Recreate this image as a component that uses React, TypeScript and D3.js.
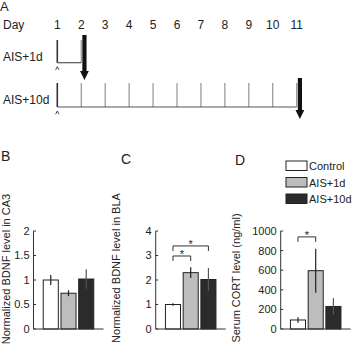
import React from "react";
import * as d3 from "d3";

// Timeline (panel A)
const dayTicks = [1, 2, 3, 4, 5, 6, 7, 8, 9, 10, 11];
const protocolLabels = ["AIS+1d", "AIS+10d"];
const protocolEndDays = [2, 11];

// Bar panels (B, C, D)
const groups = ["Control", "AIS+1d", "AIS+10d"];
const groupFills = ["#ffffff", "#bdbdbd", "#2b2b2b"];

const ca3Mean = [1.0, 0.73, 1.02];
const ca3Sem = [0.1, 0.06, 0.2];
const ca3Ticks = [0, 0.5, 1, 1.5, 2];

const blaMean = [1.0, 2.3, 2.02];
const blaSem = [0.05, 0.22, 0.47];
const blaTicks = [0, 1, 2, 3, 4];

const cortMean = [92, 595, 230];
const cortSem = [28, 225, 85];
const cortTicks = [0, 200, 400, 600, 800, 1000];

const FONT = "'Liberation Sans', Arial, Helvetica, sans-serif";
const INK = "#222";

type Sig = { a: number; b: number; level: number };

type PanelProps = {
  letter: string;
  letterX: number;
  letterY: number;
  axisX: number;
  yLabel: string;
  yLabelX: number;
  yLabelY: number;
  max: number;
  ticks: number[];
  means: number[];
  sems: number[];
  sigs: Sig[];
};

function BarPanel(p: PanelProps) {
  const y = d3.scaleLinear().domain([0, p.max]).range([329, 231]);
  const x = d3
    .scaleBand<string>()
    .domain(groups)
    .range([p.axisX, p.axisX + 70])
    .paddingInner(0.15)
    .paddingOuter(0.55);
  const bw = x.bandwidth();
  const cx = (i: number) => (x(groups[i]) as number) + bw / 2;
  return (
    <g>
      <text x={p.letterX} y={p.letterY} fontSize={14} fill={INK} fontFamily={FONT}>
        {p.letter}
      </text>
      <text
        transform={`translate(${p.yLabelX},${p.yLabelY}) rotate(-90)`}
        textAnchor="middle"
        fontSize={11}
        fill={INK}
        fontFamily={FONT}
      >
        {p.yLabel}
      </text>
      {p.ticks.map((t) => (
        <g key={t}>
          <text
            x={p.axisX - 4}
            y={y(t)}
            dy="0.36em"
            textAnchor="end"
            fontSize={11}
            fill={INK}
            fontFamily={FONT}
          >
            {t}
          </text>
          <line x1={p.axisX} x2={p.axisX + 2.5} y1={y(t)} y2={y(t)} stroke="#333" strokeWidth={1} />
        </g>
      ))}
      {p.means.map((m, i) => (
        <g key={i}>
          <rect
            x={x(groups[i])}
            y={y(m)}
            width={bw}
            height={y(0) - y(m)}
            fill={groupFills[i]}
            stroke="#222"
            strokeWidth={1}
          />
          <line
            x1={cx(i)}
            x2={cx(i)}
            y1={y(m - p.sems[i])}
            y2={y(m + p.sems[i])}
            stroke={i === 2 ? "#555" : "#222"}
            strokeWidth={1.2}
          />
        </g>
      ))}
      <line x1={p.axisX} x2={p.axisX} y1={y(p.max)} y2={y(0)} stroke="#333" strokeWidth={1} />
      <line x1={p.axisX} x2={p.axisX + 70} y1={y(0)} y2={y(0)} stroke="#333" strokeWidth={1} />
      {p.sigs.map((s, k) => {
        const yy = y(s.level);
        return (
          <g key={k}>
            <path
              d={`M${cx(s.a)},${yy + 5}V${yy}H${cx(s.b)}V${yy + 5}`}
              fill="none"
              stroke="#333"
              strokeWidth={1}
            />
            <text
              x={(cx(s.a) + cx(s.b)) / 2}
              y={yy + 2.5}
              textAnchor="middle"
              fontSize={11}
              fill={INK}
              fontFamily={FONT}
            >
              *
            </text>
          </g>
        );
      })}
    </g>
  );
}

function Timeline() {
  const x = d3.scaleLinear().domain([1, 11]).range([57.3, 296.7]);
  const rowTop = [40, 83];
  const rowBase = [62.7, 107];
  const labelY = [61, 104];
  const arrowTop = [35, 78];
  const arrowTip = [80, 119];
  const caret = (cx: number, cy: number) => `M${cx - 1.7},${cy + 3.2}L${cx},${cy}L${cx + 1.7},${cy + 3.2}`;
  const arrow = (ax: number, top: number, tip: number) => {
    const headH = 9;
    return `M${ax - 2.1},${top}H${ax + 2.1}V${tip - headH}H${ax + 4.4}L${ax},${tip}L${ax - 4.4},${tip - headH}H${ax - 2.1}Z`;
  };
  return (
    <g fontFamily={FONT} fill={INK}>
      <text x={0} y={11} fontSize={13}>A</text>
      <text x={3} y={29} fontSize={12}>Day</text>
      {dayTicks.map((d) => (
        <text key={d} x={x(d)} y={29} fontSize={12} textAnchor="middle">
          {d}
        </text>
      ))}
      {protocolLabels.map((lab, r) => {
        const end = protocolEndDays[r];
        const days = dayTicks.filter((d) => d > 1 && d <= end);
        return (
          <g key={lab}>
            <text x={3} y={labelY[r]} fontSize={12}>
              {lab}
            </text>
            {days.map((d) => (
              <line
                key={d}
                x1={x(d)}
                x2={x(d)}
                y1={rowTop[r]}
                y2={rowBase[r]}
                stroke="#8a8a8a"
                strokeWidth={1.1}
              />
            ))}
            <line x1={x(1)} x2={x(end)} y1={rowBase[r]} y2={rowBase[r]} stroke="#555" strokeWidth={1.2} />
            <line x1={x(1)} x2={x(1)} y1={rowTop[r]} y2={rowBase[r]} stroke="#333" strokeWidth={1.6} />
            <path d={caret(x(1), rowBase[r] + 4)} fill="none" stroke="#333" strokeWidth={0.9} />
            <path d={arrow(x(end) + 3.2, arrowTop[r], arrowTip[r])} fill="#111" stroke="none" />
          </g>
        );
      })}
    </g>
  );
}

function Legend() {
  const ys = [161, 177.5, 194];
  return (
    <g fontFamily={FONT}>
      {groups.map((g, i) => (
        <g key={g}>
          <rect x={286} y={ys[i]} width={21} height={9.5} fill={groupFills[i]} stroke="#222" strokeWidth={1} />
          <text x={309} y={ys[i] + 9.3} fontSize={11} fill={INK}>
            {g}
          </text>
        </g>
      ))}
    </g>
  );
}

export default function App() {
  return (
    <svg
      width={353}
      height={350}
      style={{ position: "absolute", left: 0, top: 0, background: "#fff" }}
    >
      <rect width={353} height={350} fill="#fff" />
      <Timeline />
      <BarPanel
        letter="B"
        letterX={1}
        letterY={161}
        axisX={33.5}
        yLabel="Normalized BDNF level in CA3"
        yLabelX={10}
        yLabelY={269}
        max={2}
        ticks={ca3Ticks}
        means={ca3Mean}
        sems={ca3Sem}
        sigs={[]}
      />
      <BarPanel
        letter="C"
        letterX={121}
        letterY={164}
        axisX={155.7}
        yLabel="Normalized BDNF level in BLA"
        yLabelX={120}
        yLabelY={268}
        max={4}
        ticks={blaTicks}
        means={blaMean}
        sems={blaSem}
        sigs={[
          { a: 0, b: 1, level: 2.98 },
          { a: 0, b: 2, level: 3.39 },
        ]}
      />
      <BarPanel
        letter="D"
        letterX={235}
        letterY={165}
        axisX={280.7}
        yLabel="Serum CORT level (ng/ml)"
        yLabelX={240}
        yLabelY={278}
        max={1000}
        ticks={cortTicks}
        means={cortMean}
        sems={cortSem}
        sigs={[{ a: 0, b: 1, level: 940 }]}
      />
      <Legend />
    </svg>
  );
}
